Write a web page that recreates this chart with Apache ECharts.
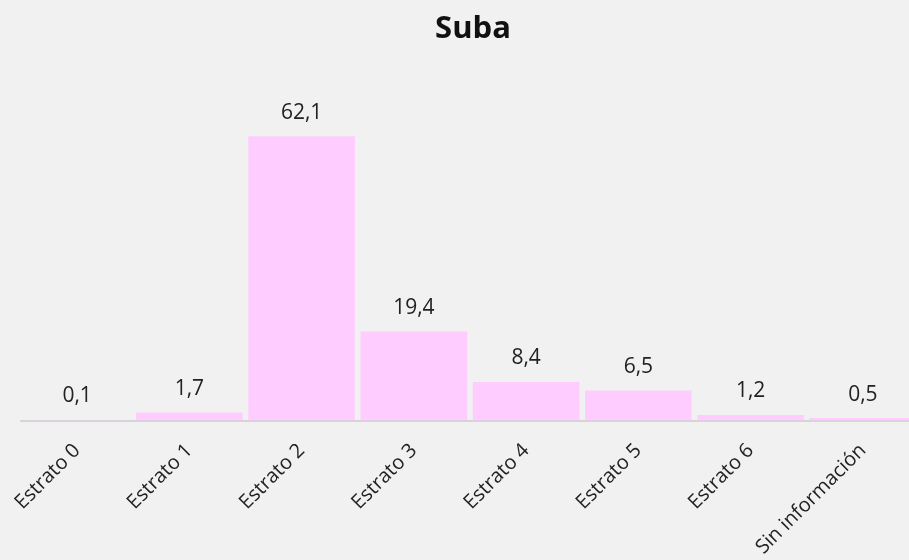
<!DOCTYPE html>
<html>
<head>
<meta charset="utf-8">
<script src="https://cdn.jsdelivr.net/npm/echarts@6/dist/echarts.min.js"></script>
<style>
html,body{margin:0;padding:0;background:#f1f1f1;overflow:hidden;}
#chart{width:930px;height:560px;}
</style>
</head>
<body>
<div id="chart"></div>
<script>
var categories = ["Estrato 0","Estrato 1","Estrato 2","Estrato 3","Estrato 4","Estrato 5","Estrato 6","Sin información"];
var values = [0.1, 1.7, 62.1, 19.4, 8.4, 6.5, 1.2, 0.5];
var titleText = "Suba";

var chart = echarts.init(document.getElementById('chart'));
chart.setOption({
  backgroundColor: '#f1f1f1',
  animation: false,
  title: {
    text: titleText,
    left: 468,
    top: 9,
    textAlign: 'center',
    textStyle: {fontFamily: 'Open Sans', fontWeight: 'bold', fontSize: 31, color: '#111'}
  },
  grid: {left: 21, width: 898, top: 100, bottom: 139, containLabel: false},
  xAxis: {
    type: 'category',
    data: categories,
    axisLine: {lineStyle: {color: '#d4d4d4', width: 2}},
    axisTick: {show: false},
    axisLabel: {rotate: 45, interval: 0, fontFamily: 'Open Sans', fontSize: 20, color: '#222', margin: 27}
  },
  yAxis: {
    type: 'value', min: 0, max: 70, show: false,
    splitLine: {show: false}
  },
  series: [{
    type: 'bar',
    data: values,
    barCategoryGap: '5%',
    itemStyle: {color: '#ffccff'},
    label: {
      show: true, position: 'top', distance: 13,
      fontFamily: 'Open Sans', fontSize: 21, color: '#222',
      formatter: function(p){ return String(p.value).replace('.', ','); }
    }
  }]
});
</script>
</body>
</html>
